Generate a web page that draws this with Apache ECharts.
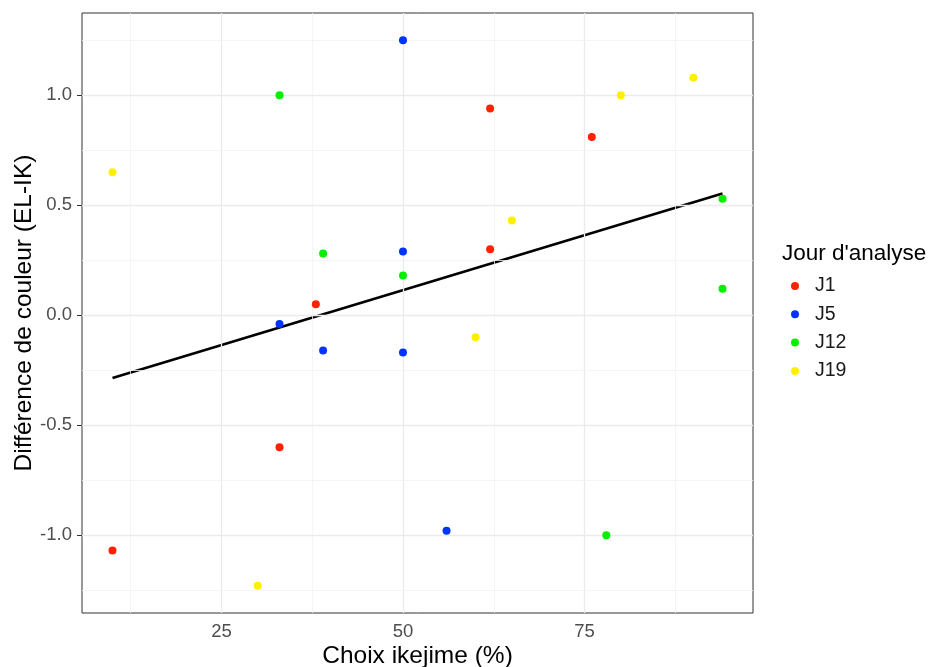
<!DOCTYPE html>
<html>
<head>
<meta charset="utf-8">
<script src="https://cdn.jsdelivr.net/npm/echarts@6/dist/echarts.min.js"></script>
<style>
html,body{margin:0;padding:0;background:#fff;}
#chart{width:929px;height:667px;}
</style>
</head>
<body>
<div id="chart"></div>
<script>
// ---- Data ----
const seriesNames = ["J1", "J5", "J12", "J19"];
const j1 = [[10, -1.07], [33, -0.60], [38, 0.05], [62, 0.94], [62, 0.30], [76, 0.81]];
const j5 = [[33, -0.04], [39, -0.16], [50, 1.25], [50, 0.29], [50, -0.17], [56, -0.98]];
const j12 = [[33, 1.00], [39, 0.28], [50, 0.18], [78, -1.00], [94, 0.53], [94, 0.12]];
const j19 = [[10, 0.65], [30, -1.23], [60, -0.10], [65, 0.43], [80, 1.00], [90, 1.08]];
const fitLine = [[10, -0.286], [94, 0.553]];
const xTicks = [25, 50, 75];
const xMinorTicks = [12.5, 37.5, 62.5, 87.5];
const yTicks = [-1.0, -0.5, 0.0, 0.5, 1.0];
const yMinorTicks = [-1.25, -0.75, -0.25, 0.25, 0.75, 1.25];
const xRange = [5.8, 98.2];
const yRange = [-1.354, 1.374];
const colors = ["#FF2200", "#0033FF", "#00F000", "#FFF000"];

const chart = echarts.init(document.getElementById('chart'), null, {renderer: 'canvas'});
const font = "Liberation Sans, Arial, Helvetica, sans-serif";

const gridLines = [];
xTicks.forEach(v => gridLines.push({xAxis: v, lineStyle: {color: '#EBEBEB', width: 1.3, type: 'solid'}}));
xMinorTicks.forEach(v => gridLines.push({xAxis: v, lineStyle: {color: '#F2F2F2', width: 0.8, type: 'solid'}}));
yTicks.forEach(v => gridLines.push({yAxis: v, lineStyle: {color: '#EBEBEB', width: 1.3, type: 'solid'}}));
yMinorTicks.forEach(v => gridLines.push({yAxis: v, lineStyle: {color: '#F2F2F2', width: 0.8, type: 'solid'}}));

const dataSets = [j1, j5, j12, j19];
const scatterSeries = seriesNames.map((n, i) => ({
  name: n,
  type: 'scatter',
  data: dataSets[i],
  symbol: 'circle',
  symbolSize: 8,
  itemStyle: {color: colors[i], opacity: 1},
  z: 5
}));

const option = {
  animation: false,
  backgroundColor: '#ffffff',
  grid: {
    left: 82, top: 13, right: 176, bottom: 54,
    show: true, borderColor: '#333333', borderWidth: 1, backgroundColor: 'transparent',
    containLabel: false,
    outerBoundsMode: 'none'
  },
  title: {
    text: "Jour d'analyse",
    left: 777, top: 237,
    textStyle: {fontFamily: font, fontSize: 22.5, fontWeight: 'normal', color: '#000'}
  },
  legend: {
    data: seriesNames,
    orient: 'vertical',
    left: 786, top: 271,
    itemWidth: 30, itemHeight: 8, itemGap: 8.3,
    icon: 'circle',
    textStyle: {fontFamily: font, fontSize: 19.5, color: '#1A1A1A'},
    selectedMode: false
  },
  xAxis: {
    type: 'value',
    min: xRange[0], max: xRange[1],
    name: 'Choix ikejime (%)',
    nameLocation: 'middle',
    nameGap: 31,
    nameMoveOverlap: false,
    nameTextStyle: {fontFamily: font, fontSize: 24.5, color: '#000'},
    axisLine: {show: false},
    axisTick: {show: true, customValues: xTicks, length: 5, lineStyle: {color: '#333', width: 1}},
    axisLabel: {customValues: xTicks, margin: 9, fontFamily: font, fontSize: 18.5, color: '#4D4D4D',
      formatter: v => String(Math.round(v))},
    splitLine: {show: false}
  },
  yAxis: {
    type: 'value',
    min: yRange[0], max: yRange[1],
    name: 'Différence de couleur (EL-IK)',
    nameLocation: 'middle',
    nameGap: 45,
    nameMoveOverlap: false,
    nameTextStyle: {fontFamily: font, fontSize: 24.5, color: '#000'},
    axisLine: {show: false},
    axisTick: {show: true, customValues: yTicks, length: 5, lineStyle: {color: '#333', width: 1}},
    axisLabel: {customValues: yTicks, margin: 10, fontFamily: font, fontSize: 18.5, color: '#4D4D4D',
      formatter: v => v.toFixed(1)},
    splitLine: {show: false}
  },
  series: [
    {
      name: 'grid',
      type: 'line',
      data: [],
      silent: true,
      z: 1,
      markLine: {
        silent: true,
        symbol: ['none', 'none'],
        label: {show: false},
        animation: false,
        data: gridLines
      }
    },
    ...scatterSeries,
    {
      name: 'fit',
      type: 'line',
      data: fitLine,
      symbol: 'none',
      lineStyle: {color: '#000', width: 2.6},
      z: 4
    }
  ]
};
chart.setOption(option);
</script>
</body>
</html>
